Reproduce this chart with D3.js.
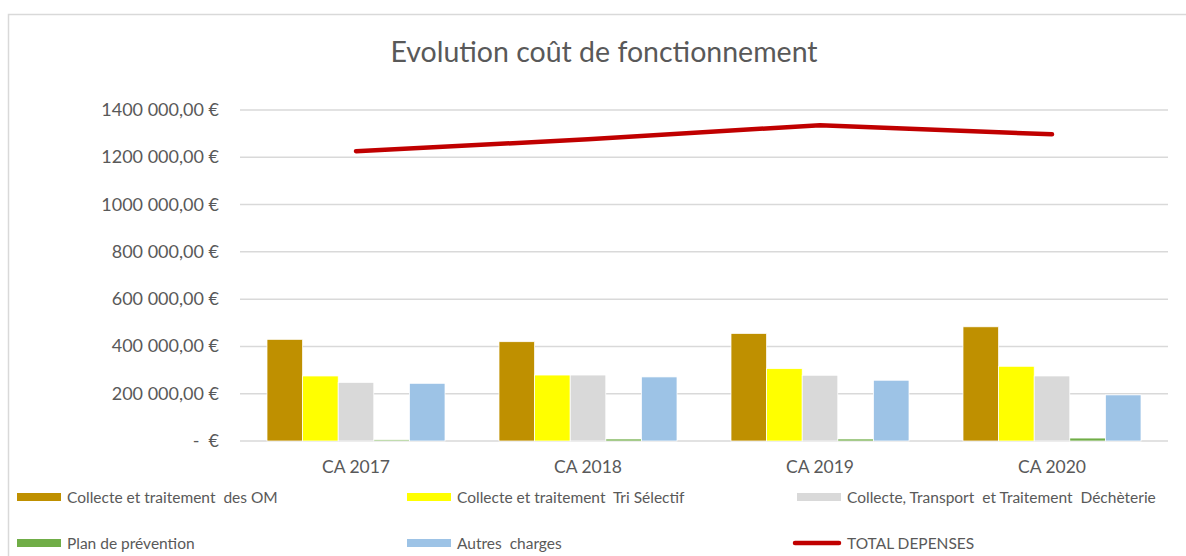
<!DOCTYPE html>
<html>
<head>
<meta charset="utf-8">
<script src="https://cdn.jsdelivr.net/npm/d3@7"></script>
<style>
  body { margin: 0; background: #fff; }
  text { font-family: Lato, "Open Sans", sans-serif; fill: #595959; }
</style>
</head>
<body>
<div id="chart"></div>
<script>
// categories and series
var categories = ["CA 2017", "CA 2018", "CA 2019", "CA 2020"];
var seriesNames = [
  "Collecte et traitement  des OM",
  "Collecte et traitement  Tri Sélectif",
  "Collecte, Transport  et Traitement  Déchèterie",
  "Plan de prévention",
  "Autres  charges"
];
var seriesColors = ["#BF9000", "#FFFF00", "#D9D9D9", "#70AD47", "#9DC3E6"];
var omValues      = [430000, 420000, 455000, 483000];
var triValues     = [275000, 279000, 306000, 316000];
var decheValues   = [248000, 279000, 278000, 275000];
var preventValues = [5000, 8500, 8500, 12500];
var autresValues  = [244000, 271000, 257000, 195000];
var totalName = "TOTAL DEPENSES";
var totalValues = [1226000, 1276000, 1336000, 1297000];
var yTicks = [0, 200000, 400000, 600000, 800000, 1000000, 1200000, 1400000];
var yTickLabels = ["-  €", "200 000,00 €", "400 000,00 €", "600 000,00 €", "800 000,00 €",
                   "1000 000,00 €", "1200 000,00 €", "1400 000,00 €"];

var seriesValues = [omValues, triValues, decheValues, preventValues, autresValues];

var width = 1186, height = 556;
var svg = d3.select("#chart").append("svg")
  .attr("width", width)
  .attr("height", height);

/* cadre du graphique */
svg.append("rect")
  .attr("x", 8.5).attr("y", 14.5)
  .attr("width", 1200).attr("height", 600)
  .attr("fill", "#fff")
  .attr("stroke", "#d9d9d9")
  .attr("stroke-width", 1.5);

svg.append("text")
  .attr("x", 604).attr("y", 62)
  .attr("text-anchor", "middle")
  .style("font-size", "28.5px")
  .text("Evolution coût de fonctionnement");

var plot = { left: 240, right: 1168, top: 110, bottom: 441 };

var x0 = d3.scaleBand().domain(categories).range([plot.left, plot.right]);
var x1 = d3.scaleBand().domain(d3.range(seriesNames.length))
  .range([27, x0.bandwidth() - 27]);
var y = d3.scaleLinear().domain([0, 1400000]).range([plot.bottom, plot.top]);

/* grille */
svg.append("g").selectAll("line")
  .data(yTicks)
  .enter().append("line")
  .attr("x1", plot.left).attr("x2", plot.right)
  .attr("y1", function(d) { return y(d); })
  .attr("y2", function(d) { return y(d); })
  .attr("stroke", "#d9d9d9")
  .attr("stroke-width", 1.5);

/* labels axe y */
svg.append("g").selectAll("text")
  .data(yTicks)
  .enter().append("text")
  .attr("x", 219)
  .attr("y", function(d) { return y(d) + 6; })
  .attr("text-anchor", "end")
  .style("font-size", "18px")
  .style("white-space", "pre")
  .text(function(d, i) { return yTickLabels[i]; });

/* labels axe x */
svg.append("g").selectAll("text")
  .data(categories)
  .enter().append("text")
  .attr("x", function(d) { return x0(d) + x0.bandwidth() / 2; })
  .attr("y", 473)
  .attr("text-anchor", "middle")
  .style("font-size", "17.5px")
  .text(function(d) { return d; });

/* barres */
var groups = svg.append("g").selectAll("g")
  .data(categories)
  .enter().append("g")
  .attr("transform", function(d) { return "translate(" + x0(d) + ",0)"; });

groups.selectAll("rect")
  .data(function(d, ci) {
    return seriesValues.map(function(vals, si) { return { s: si, v: vals[ci] }; });
  })
  .enter().append("rect")
  .attr("x", function(d) { return x1(d.s); })
  .attr("width", x1.bandwidth())
  .attr("y", function(d) { return y(d.v); })
  .attr("height", function(d) { return y(0) - y(d.v); })
  .attr("fill", function(d) { return seriesColors[d.s]; })
  .attr("stroke", "#fff")
  .attr("stroke-width", 0.75);

/* ligne total */
var line = d3.line()
  .x(function(d, i) { return x0(categories[i]) + x0.bandwidth() / 2; })
  .y(function(d) { return y(d); });

svg.append("path")
  .datum(totalValues)
  .attr("d", line)
  .attr("fill", "none")
  .attr("stroke", "#C00000")
  .attr("stroke-width", 4.5)
  .attr("stroke-linejoin", "round")
  .attr("stroke-linecap", "round");

/* légende */
var legendItems = seriesNames.map(function(n, i) {
  return { name: n, color: seriesColors[i], type: "bar" };
});
legendItems.push({ name: totalName, color: "#C00000", type: "line" });
var colX = [17, 407, 797], rowY = [497, 543];

var leg = svg.append("g").selectAll("g")
  .data(legendItems)
  .enter().append("g")
  .attr("transform", function(d, i) {
    return "translate(" + colX[i % 3] + "," + rowY[Math.floor(i / 3)] + ")";
  });

leg.filter(function(d) { return d.type === "bar"; })
  .append("rect")
  .attr("x", 0).attr("y", -4)
  .attr("width", 44).attr("height", 8)
  .attr("fill", function(d) { return d.color; });

leg.filter(function(d) { return d.type === "line"; })
  .append("line")
  .attr("x1", -2).attr("x2", 42)
  .attr("y1", 0).attr("y2", 0)
  .attr("stroke", function(d) { return d.color; })
  .attr("stroke-width", 4.5)
  .attr("stroke-linecap", "round");

leg.append("text")
  .attr("x", 50)
  .attr("y", 5.5)
  .style("font-size", "15.5px")
  .style("white-space", "pre")
  .text(function(d) { return d.name; });
</script>
</body>
</html>
